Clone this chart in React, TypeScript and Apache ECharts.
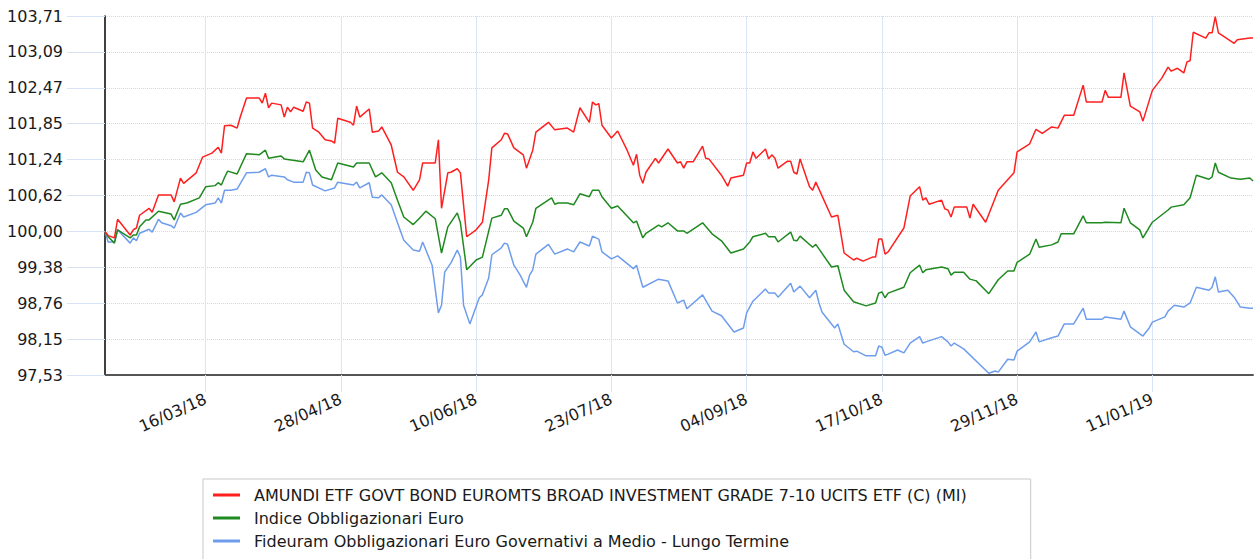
import React, { useEffect, useRef } from 'react';
import * as echarts from 'echarts';

const seriesNames = [
  'AMUNDI ETF GOVT BOND EUROMTS BROAD INVESTMENT GRADE 7-10 UCITS ETF (C) (MI)',
  'Indice Obbligazionari Euro',
  'Fideuram Obbligazionari Euro Governativi a Medio - Lungo Termine',
];
const seriesColors = ['#ff1f1f', '#1f8a1f', '#6f9ded'];

const xStart = '2018-02-12';
const xEnd = '2019-02-12';
const xTickDates = ['2018-03-16', '2018-04-28', '2018-06-10', '2018-07-23', '2018-09-04', '2018-10-17', '2018-11-29', '2019-01-11'];

const yMin = 97.53;
const yMax = 103.71;
const yStep = 0.618;
const yTickLabels = ['97,53', '98,15', '98,76', '99,38', '100,00', '100,62', '101,24', '101,85', '102,47', '103,09', '103,71'];

const amundi: [string, number][] = [
  ['2018-02-12', 100.0], ['2018-02-13', 99.93], ['2018-02-15', 99.89], ['2018-02-16', 100.21], ['2018-02-20', 99.94],
  ['2018-02-21', 100.03], ['2018-02-22', 100.06], ['2018-02-23', 100.28], ['2018-02-26', 100.4], ['2018-02-27', 100.33],
  ['2018-03-01', 100.63], ['2018-03-05', 100.63], ['2018-03-06', 100.51], ['2018-03-08', 100.92], ['2018-03-09', 100.83],
  ['2018-03-13', 101.01], ['2018-03-15', 101.28], ['2018-03-18', 101.35], ['2018-03-20', 101.45], ['2018-03-21', 101.35],
  ['2018-03-22', 101.82], ['2018-03-24', 101.83], ['2018-03-26', 101.78], ['2018-03-27', 101.97], ['2018-03-29', 102.3],
  ['2018-04-02', 102.3], ['2018-04-03', 102.21], ['2018-04-04', 102.38], ['2018-04-05', 102.13], ['2018-04-06', 102.21],
  ['2018-04-09', 102.18], ['2018-04-10', 101.97], ['2018-04-11', 102.14], ['2018-04-12', 102.06], ['2018-04-13', 102.14],
  ['2018-04-16', 102.07], ['2018-04-17', 102.23], ['2018-04-18', 102.21], ['2018-04-19', 101.78], ['2018-04-21', 101.71],
  ['2018-04-23', 101.58], ['2018-04-25', 101.56], ['2018-04-26', 101.52], ['2018-04-27', 101.95], ['2018-05-01', 101.88],
  ['2018-05-02', 101.83], ['2018-05-03', 102.16], ['2018-05-04', 101.97], ['2018-05-07', 102.11], ['2018-05-08', 101.71],
  ['2018-05-10', 101.73], ['2018-05-11', 101.8], ['2018-05-14', 101.49], ['2018-05-16', 101.02], ['2018-05-18', 100.94],
  ['2018-05-21', 100.71], ['2018-05-23', 100.89], ['2018-05-24', 101.18], ['2018-05-28', 101.18], ['2018-05-29', 101.58],
  ['2018-05-30', 100.4], ['2018-06-01', 101.01], ['2018-06-02', 101.02], ['2018-06-04', 101.08], ['2018-06-05', 101.01],
  ['2018-06-07', 99.91], ['2018-06-10', 100.03], ['2018-06-12', 100.16], ['2018-06-14', 100.89], ['2018-06-15', 101.44],
  ['2018-06-18', 101.58], ['2018-06-19', 101.69], ['2018-06-20', 101.68], ['2018-06-22', 101.44], ['2018-06-25', 101.32],
  ['2018-06-26', 101.09], ['2018-06-28', 101.4], ['2018-06-29', 101.71], ['2018-07-03', 101.88], ['2018-07-05', 101.75],
  ['2018-07-09', 101.78], ['2018-07-11', 101.71], ['2018-07-13', 102.13], ['2018-07-16', 101.88], ['2018-07-17', 102.23],
  ['2018-07-18', 102.18], ['2018-07-19', 102.2], ['2018-07-20', 101.83], ['2018-07-23', 101.61], ['2018-07-25', 101.73],
  ['2018-07-28', 101.4], ['2018-07-30', 101.14], ['2018-07-31', 101.33], ['2018-08-01', 100.97], ['2018-08-02', 100.83],
  ['2018-08-03', 101.02], ['2018-08-06', 101.26], ['2018-08-07', 101.18], ['2018-08-10', 101.42], ['2018-08-13', 101.18],
  ['2018-08-14', 101.2], ['2018-08-15', 101.09], ['2018-08-16', 101.2], ['2018-08-18', 101.2], ['2018-08-21', 101.47],
  ['2018-08-22', 101.26], ['2018-08-23', 101.25], ['2018-08-27', 100.97], ['2018-08-29', 100.78], ['2018-08-30', 100.92],
  ['2018-09-03', 100.97], ['2018-09-04', 101.18], ['2018-09-05', 101.18], ['2018-09-06', 101.37], ['2018-09-07', 101.26],
  ['2018-09-10', 101.42], ['2018-09-11', 101.25], ['2018-09-12', 101.32], ['2018-09-13', 101.26], ['2018-09-14', 101.09],
  ['2018-09-17', 101.21], ['2018-09-18', 101.21], ['2018-09-19', 101.02], ['2018-09-20', 100.99], ['2018-09-21', 101.25],
  ['2018-09-24', 100.77], ['2018-09-25', 100.71], ['2018-09-26', 100.85], ['2018-09-27', 100.73], ['2018-10-01', 100.25],
  ['2018-10-03', 100.28], ['2018-10-05', 99.63], ['2018-10-08', 99.51], ['2018-10-09', 99.54], ['2018-10-11', 99.49],
  ['2018-10-14', 99.56], ['2018-10-15', 99.56], ['2018-10-16', 99.87], ['2018-10-17', 99.87], ['2018-10-18', 99.61],
  ['2018-10-19', 99.65], ['2018-10-24', 100.06], ['2018-10-26', 100.61], ['2018-10-29', 100.77], ['2018-10-30', 100.54],
  ['2018-10-31', 100.58], ['2018-11-01', 100.47], ['2018-11-05', 100.54], ['2018-11-06', 100.39], ['2018-11-07', 100.37],
  ['2018-11-08', 100.25], ['2018-11-09', 100.42], ['2018-11-13', 100.42], ['2018-11-14', 100.23], ['2018-11-15', 100.47],
  ['2018-11-19', 100.16], ['2018-11-23', 100.71], ['2018-11-28', 101.01], ['2018-11-29', 101.37], ['2018-12-03', 101.51],
  ['2018-12-05', 101.76], ['2018-12-07', 101.69], ['2018-12-10', 101.8], ['2018-12-12', 101.78], ['2018-12-14', 102.0],
  ['2018-12-17', 102.0], ['2018-12-20', 102.52], ['2018-12-21', 102.23], ['2018-12-26', 102.23], ['2018-12-27', 102.43],
  ['2018-12-28', 102.31], ['2019-01-01', 102.31], ['2019-01-02', 102.73], ['2019-01-04', 102.16], ['2019-01-07', 102.06],
  ['2019-01-08', 101.9], ['2019-01-11', 102.43], ['2019-01-14', 102.64], ['2019-01-16', 102.83], ['2019-01-17', 102.76],
  ['2019-01-19', 102.81], ['2019-01-21', 102.73], ['2019-01-22', 102.92], ['2019-01-23', 102.94], ['2019-01-24', 103.43],
  ['2019-01-28', 103.33], ['2019-01-29', 103.42], ['2019-01-30', 103.42], ['2019-01-31', 103.7], ['2019-02-01', 103.42],
  ['2019-02-04', 103.31], ['2019-02-06', 103.24], ['2019-02-07', 103.3], ['2019-02-11', 103.33], ['2019-02-12', 103.33],
];

const indice: [string, number][] = [
  ['2018-02-12', 100.0], ['2018-02-13', 99.91], ['2018-02-15', 99.8], ['2018-02-16', 100.03], ['2018-02-20', 99.89],
  ['2018-02-21', 99.94], ['2018-02-22', 99.94], ['2018-02-23', 100.08], ['2018-02-25', 100.2], ['2018-02-26', 100.2],
  ['2018-03-01', 100.35], ['2018-03-05', 100.3], ['2018-03-06', 100.2], ['2018-03-08', 100.47], ['2018-03-10', 100.49],
  ['2018-03-14', 100.58], ['2018-03-16', 100.77], ['2018-03-19', 100.79], ['2018-03-20', 100.84], ['2018-03-21', 100.8],
  ['2018-03-22', 100.93], ['2018-03-23', 101.04], ['2018-03-26', 100.99], ['2018-03-29', 101.34], ['2018-04-02', 101.32],
  ['2018-04-04', 101.4], ['2018-04-05', 101.26], ['2018-04-09', 101.3], ['2018-04-10', 101.25], ['2018-04-16', 101.2],
  ['2018-04-18', 101.4], ['2018-04-20', 101.06], ['2018-04-22', 100.94], ['2018-04-25', 100.89], ['2018-04-27', 101.18],
  ['2018-05-02', 101.11], ['2018-05-03', 101.18], ['2018-05-07', 101.18], ['2018-05-09', 100.94], ['2018-05-11', 101.01],
  ['2018-05-14', 100.84], ['2018-05-16', 100.54], ['2018-05-18', 100.25], ['2018-05-21', 100.12], ['2018-05-23', 100.23],
  ['2018-05-25', 100.35], ['2018-05-28', 100.22], ['2018-05-30', 99.63], ['2018-06-01', 100.08], ['2018-06-04', 100.32],
  ['2018-06-05', 100.15], ['2018-06-07', 99.34], ['2018-06-10', 99.51], ['2018-06-12', 99.56], ['2018-06-15', 100.23],
  ['2018-06-18', 100.28], ['2018-06-19', 100.39], ['2018-06-20', 100.39], ['2018-06-22', 100.18], ['2018-06-25', 100.06],
  ['2018-06-26', 99.91], ['2018-06-28', 100.16], ['2018-06-29', 100.4], ['2018-07-04', 100.58], ['2018-07-05', 100.47],
  ['2018-07-06', 100.49], ['2018-07-09', 100.49], ['2018-07-11', 100.46], ['2018-07-13', 100.65], ['2018-07-16', 100.6],
  ['2018-07-17', 100.71], ['2018-07-19', 100.71], ['2018-07-20', 100.6], ['2018-07-23', 100.4], ['2018-07-25', 100.44],
  ['2018-07-30', 100.15], ['2018-07-31', 100.18], ['2018-08-02', 99.89], ['2018-08-03', 99.97], ['2018-08-07', 100.11],
  ['2018-08-08', 100.08], ['2018-08-10', 100.15], ['2018-08-13', 100.01], ['2018-08-15', 100.01], ['2018-08-16', 99.97],
  ['2018-08-21', 100.15], ['2018-08-24', 99.96], ['2018-08-27', 99.84], ['2018-08-30', 99.63], ['2018-09-03', 99.7],
  ['2018-09-05', 99.82], ['2018-09-06', 99.91], ['2018-09-10', 99.97], ['2018-09-11', 99.91], ['2018-09-13', 99.91],
  ['2018-09-14', 99.82], ['2018-09-18', 99.99], ['2018-09-19', 99.85], ['2018-09-20', 99.84], ['2018-09-21', 99.92],
  ['2018-09-25', 99.73], ['2018-09-26', 99.78], ['2018-09-27', 99.7], ['2018-10-01', 99.39], ['2018-10-03', 99.41],
  ['2018-10-05', 98.99], ['2018-10-08', 98.79], ['2018-10-12', 98.72], ['2018-10-15', 98.77], ['2018-10-16', 98.94],
  ['2018-10-17', 98.96], ['2018-10-18', 98.86], ['2018-10-19', 98.94], ['2018-10-24', 99.04], ['2018-10-26', 99.29],
  ['2018-10-29', 99.42], ['2018-10-30', 99.29], ['2018-10-31', 99.34], ['2018-11-05', 99.39], ['2018-11-07', 99.36],
  ['2018-11-08', 99.25], ['2018-11-09', 99.3], ['2018-11-12', 99.3], ['2018-11-14', 99.18], ['2018-11-16', 99.15],
  ['2018-11-20', 98.93], ['2018-11-23', 99.17], ['2018-11-26', 99.32], ['2018-11-28', 99.32], ['2018-11-29', 99.47],
  ['2018-12-03', 99.61], ['2018-12-05', 99.87], ['2018-12-06', 99.73], ['2018-12-10', 99.77], ['2018-12-12', 99.82],
  ['2018-12-13', 99.96], ['2018-12-17', 99.96], ['2018-12-20', 100.27], ['2018-12-21', 100.15], ['2018-12-26', 100.15],
  ['2018-12-27', 100.16], ['2019-01-01', 100.15], ['2019-01-02', 100.4], ['2019-01-04', 100.15], ['2019-01-07', 100.03],
  ['2019-01-08', 99.89], ['2019-01-11', 100.16], ['2019-01-16', 100.37], ['2019-01-17', 100.42], ['2019-01-21', 100.46],
  ['2019-01-23', 100.58], ['2019-01-25', 100.97], ['2019-01-29', 100.9], ['2019-01-30', 100.94], ['2019-01-31', 101.18],
  ['2019-02-01', 101.02], ['2019-02-05', 100.92], ['2019-02-08', 100.9], ['2019-02-11', 100.92], ['2019-02-12', 100.87],
];

const fideuram: [string, number][] = [
  ['2018-02-12', 100.0], ['2018-02-13', 99.82], ['2018-02-15', 99.82], ['2018-02-16', 100.03], ['2018-02-20', 99.8],
  ['2018-02-21', 99.89], ['2018-02-22', 99.84], ['2018-02-23', 99.97], ['2018-02-26', 100.04], ['2018-02-27', 99.99],
  ['2018-03-01', 100.21], ['2018-03-02', 100.15], ['2018-03-05', 100.1], ['2018-03-06', 100.06], ['2018-03-08', 100.32],
  ['2018-03-09', 100.25], ['2018-03-13', 100.33], ['2018-03-16', 100.46], ['2018-03-19', 100.49], ['2018-03-20', 100.58],
  ['2018-03-21', 100.49], ['2018-03-22', 100.71], ['2018-03-24', 100.71], ['2018-03-26', 100.73], ['2018-03-29', 101.01],
  ['2018-04-02', 101.02], ['2018-04-04', 101.08], ['2018-04-05', 100.94], ['2018-04-06', 100.97], ['2018-04-10', 100.94],
  ['2018-04-11', 100.89], ['2018-04-13', 100.85], ['2018-04-16', 100.85], ['2018-04-17', 101.02], ['2018-04-18', 101.01],
  ['2018-04-19', 100.8], ['2018-04-23', 100.7], ['2018-04-26', 100.75], ['2018-04-27', 100.85], ['2018-05-02', 100.8],
  ['2018-05-03', 100.85], ['2018-05-04', 100.75], ['2018-05-07', 100.84], ['2018-05-08', 100.59], ['2018-05-10', 100.58],
  ['2018-05-11', 100.63], ['2018-05-14', 100.46], ['2018-05-16', 100.15], ['2018-05-18', 99.85], ['2018-05-21', 99.68],
  ['2018-05-23', 99.66], ['2018-05-24', 99.82], ['2018-05-27', 99.42], ['2018-05-29', 98.6], ['2018-05-30', 98.73],
  ['2018-05-31', 99.3], ['2018-06-02', 99.46], ['2018-06-04', 99.68], ['2018-06-05', 99.56], ['2018-06-06', 98.73],
  ['2018-06-08', 98.41], ['2018-06-11', 98.86], ['2018-06-12', 98.91], ['2018-06-14', 99.2], ['2018-06-15', 99.6],
  ['2018-06-18', 99.72], ['2018-06-19', 99.8], ['2018-06-20', 99.78], ['2018-06-22', 99.42], ['2018-06-24', 99.25],
  ['2018-06-26', 99.04], ['2018-06-27', 99.25], ['2018-06-28', 99.34], ['2018-06-29', 99.61], ['2018-07-03', 99.78],
  ['2018-07-05', 99.61], ['2018-07-09', 99.7], ['2018-07-11', 99.65], ['2018-07-13', 99.82], ['2018-07-16', 99.75],
  ['2018-07-17', 99.92], ['2018-07-19', 99.87], ['2018-07-20', 99.65], ['2018-07-23', 99.53], ['2018-07-25', 99.58],
  ['2018-07-30', 99.36], ['2018-07-31', 99.42], ['2018-08-02', 99.04], ['2018-08-07', 99.18], ['2018-08-10', 99.15],
  ['2018-08-13', 98.77], ['2018-08-15', 98.82], ['2018-08-16', 98.67], ['2018-08-21', 98.91], ['2018-08-24', 98.63],
  ['2018-08-27', 98.55], ['2018-08-31', 98.27], ['2018-09-03', 98.34], ['2018-09-04', 98.6], ['2018-09-06', 98.8],
  ['2018-09-10', 99.01], ['2018-09-11', 98.94], ['2018-09-13', 98.94], ['2018-09-14', 98.87], ['2018-09-18', 99.11],
  ['2018-09-19', 98.96], ['2018-09-21', 99.06], ['2018-09-24', 98.86], ['2018-09-26', 98.99], ['2018-09-27', 98.77],
  ['2018-09-28', 98.61], ['2018-10-02', 98.34], ['2018-10-03', 98.41], ['2018-10-05', 98.06], ['2018-10-08', 97.93],
  ['2018-10-09', 97.94], ['2018-10-12', 97.86], ['2018-10-15', 97.86], ['2018-10-16', 98.03], ['2018-10-17', 98.01],
  ['2018-10-18', 97.87], ['2018-10-19', 97.89], ['2018-10-22', 97.96], ['2018-10-24', 97.91], ['2018-10-26', 98.08],
  ['2018-10-29', 98.19], ['2018-10-30', 98.08], ['2018-10-31', 98.1], ['2018-11-05', 98.19], ['2018-11-07', 98.1],
  ['2018-11-08', 98.03], ['2018-11-09', 98.08], ['2018-11-12', 97.98], ['2018-11-20', 97.56], ['2018-11-22', 97.6],
  ['2018-11-23', 97.58], ['2018-11-26', 97.8], ['2018-11-28', 97.79], ['2018-11-29', 97.94], ['2018-12-03', 98.1],
  ['2018-12-05', 98.27], ['2018-12-06', 98.1], ['2018-12-10', 98.17], ['2018-12-12', 98.2], ['2018-12-14', 98.41],
  ['2018-12-17', 98.41], ['2018-12-20', 98.68], ['2018-12-21', 98.49], ['2018-12-26', 98.49], ['2018-12-27', 98.53],
  ['2019-01-01', 98.49], ['2019-01-02', 98.63], ['2019-01-04', 98.36], ['2019-01-08', 98.2], ['2019-01-10', 98.34],
  ['2019-01-11', 98.44], ['2019-01-15', 98.53], ['2019-01-16', 98.63], ['2019-01-18', 98.73], ['2019-01-21', 98.7],
  ['2019-01-23', 98.77], ['2019-01-25', 99.04], ['2019-01-29', 98.99], ['2019-01-30', 99.04], ['2019-01-31', 99.22],
  ['2019-02-01', 98.96], ['2019-02-04', 98.99], ['2019-02-06', 98.87], ['2019-02-08', 98.7], ['2019-02-11', 98.68],
  ['2019-02-12', 98.68],
];

const seriesData = [amundi, indice, fideuram];

function toTime(s: string): number {
  const [y, m, d] = s.split('-').map(Number);
  return new Date(y, m - 1, d).getTime();
}

function fmtDate(v: number): string {
  const dt = new Date(v);
  const dd = String(dt.getDate()).padStart(2, '0');
  const mm = String(dt.getMonth() + 1).padStart(2, '0');
  const yy = String(dt.getFullYear() % 100).padStart(2, '0');
  return `${dd}/${mm}/${yy}`;
}

const FONT = 'DejaVu Sans';
const TEXT_COLOR = '#1a1a1a';

export default function App() {
  const ref = useRef<HTMLDivElement>(null);

  useEffect(() => {
    if (!ref.current) return;
    const chart = echarts.init(ref.current, undefined, { renderer: 'svg' });
    const tickTimes = xTickDates.map(toTime);

    chart.setOption({
      animation: false,
      backgroundColor: '#ffffff',
      grid: { left: 105, top: 16, right: 2, bottom: 184, containLabel: false },
      legend: {
        orient: 'vertical',
        left: 203,
        top: 479,
        height: 120,
        padding: [8, 64, 24, 10],
        itemGap: 7,
        itemWidth: 27,
        itemHeight: 3,
        icon: 'rect',
        borderColor: '#c8c8c8',
        borderWidth: 1,
        backgroundColor: '#ffffff',
        data: seriesNames,
        textStyle: {
          fontFamily: FONT,
          fontSize: 16,
          color: TEXT_COLOR,
          padding: [0, 0, 0, 9],
        },
      },
      xAxis: {
        type: 'value',
        min: toTime(xStart),
        max: toTime(xEnd),
        axisLine: { show: true, lineStyle: { color: '#555555', width: 2 } },
        axisTick: {
          show: true,
          customValues: tickTimes,
          length: 17,
          lineStyle: { color: '#d6e4f6', width: 1 },
        },
        axisLabel: {
          customValues: tickTimes,
          formatter: (v: number) => fmtDate(v),
          rotate: 24,
          margin: 23,
          fontFamily: FONT,
          fontSize: 16,
          color: TEXT_COLOR,
        },
        splitLine: { show: true, lineStyle: { color: '#d9e6f8', width: 1, type: 'solid' } },
      },
      yAxis: {
        type: 'value',
        min: yMin,
        max: yMax,
        interval: yStep,
        axisLine: { show: true, lineStyle: { color: '#000000', width: 1.5 } },
        axisTick: { show: true, length: 38, lineStyle: { color: '#d6e4f6', width: 1 } },
        axisLabel: {
          margin: 42,
          fontFamily: FONT,
          fontSize: 16,
          color: TEXT_COLOR,
          formatter: (v: number) => yTickLabels[Math.round((v - yMin) / yStep)] ?? '',
        },
        splitLine: { show: true, lineStyle: { color: '#c9daf3', width: 1, type: 'dotted' } },
      },
      series: seriesData.map((arr, i) => ({
        name: seriesNames[i],
        type: 'line',
        symbol: 'none',
        showSymbol: false,
        color: seriesColors[i],
        lineStyle: { color: seriesColors[i], width: 1.5 },
        data: arr.map(([d, v]) => [toTime(d), v]),
        z: 3 - i,
      })),
    });

    return () => chart.dispose();
  }, []);

  return (
    <div
      ref={ref}
      style={{ position: 'absolute', left: 0, top: 0, width: 1255, height: 559, background: '#fff' }}
    />
  );
}
